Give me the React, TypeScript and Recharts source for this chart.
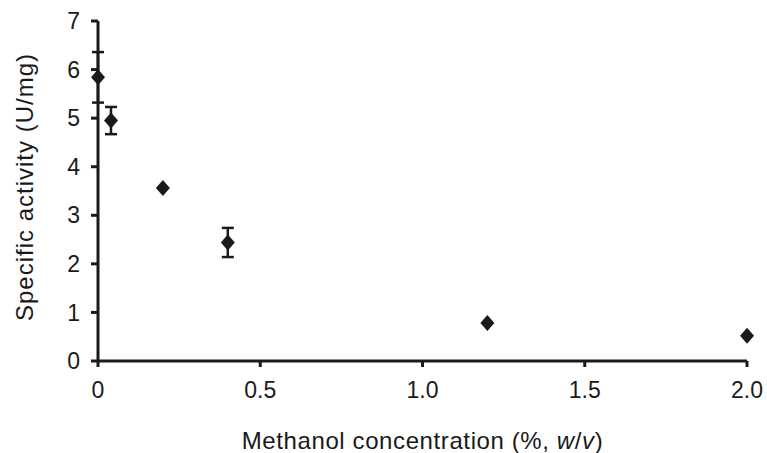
import { ErrorBar, Scatter, ScatterChart, XAxis, YAxis, Label } from "recharts";

const concentrations = [0, 0.04, 0.2, 0.4, 1.2, 2.0];
const activities = [5.84, 4.95, 3.56, 2.44, 0.78, 0.52];
const errors = [0.52, 0.28, 0, 0.3, 0, 0];
const xTicks = [0, 0.5, 1, 1.5, 2];
const yTicks = [0, 1, 2, 3, 4, 5, 6, 7];

const data = concentrations.map((x, i) => ({
  x,
  y: activities[i],
  err: errors[i],
}));

const ink = "#1a1a1a";
const font = "'Liberation Sans', Arial, sans-serif";
const axisLine = { stroke: ink, strokeWidth: 3 };

function Diamond(props: { cx?: number; cy?: number }) {
  const { cx, cy } = props;
  if (cx == null || cy == null) return null;
  return (
    <polygon
      points={`${cx},${cy - 8} ${cx + 7},${cy} ${cx},${cy + 8} ${cx - 7},${cy}`}
      fill={ink}
    />
  );
}

export default function App() {
  return (
    <div style={{ position: "absolute", left: 0, top: 0, fontFamily: font }}>
      <ScatterChart
        width={767}
        height={453}
        margin={{ top: 21, right: 20, bottom: 0, left: 0 }}
      >
        <XAxis
          type="number"
          dataKey="x"
          domain={[0, 2]}
          ticks={xTicks}
          tickFormatter={(v: number) => (v === 0 ? "0" : v.toFixed(1))}
          height={92}
          tickSize={6}
          tickMargin={15}
          axisLine={axisLine}
          tickLine={axisLine}
          tick={{ fill: ink, fontSize: 23, fontFamily: font }}
        >
          <Label
            content={(p: any) => {
              const vb = p.viewBox;
              const cx = vb.x + vb.width / 2;
              const cy = vb.y + vb.height / 2 + 33;
              return (
                <text
                  x={cx}
                  y={cy}
                  textAnchor="middle"
                  dominantBaseline="central"
                  fill={ink}
                  fontSize={24}
                  letterSpacing={0.6}
                  fontFamily={font}
                >
                  Methanol concentration (%, <tspan fontStyle="italic">w</tspan>/
                  <tspan fontStyle="italic">v</tspan>)
                </text>
              );
            }}
          />
        </XAxis>
        <YAxis
          type="number"
          dataKey="y"
          domain={[0, 7]}
          ticks={yTicks}
          width={98}
          tickSize={7}
          tickMargin={11}
          axisLine={axisLine}
          tickLine={axisLine}
          tick={{ fill: ink, fontSize: 23, fontFamily: font }}
        >
          <Label
            value="Specific activity (U/mg)"
            angle={-90}
            position="center"
            dx={-25}
            dy={-4}
            fill={ink}
            fontSize={24}
            letterSpacing={1}
            fontFamily={font}
          />
        </YAxis>
        <Scatter data={data} shape={<Diamond />} isAnimationActive={false}>
          <ErrorBar
            dataKey="err"
            direction="y"
            width={6}
            strokeWidth={2.5}
            stroke={ink}
            isAnimationActive={false}
          />
        </Scatter>
      </ScatterChart>
    </div>
  );
}
